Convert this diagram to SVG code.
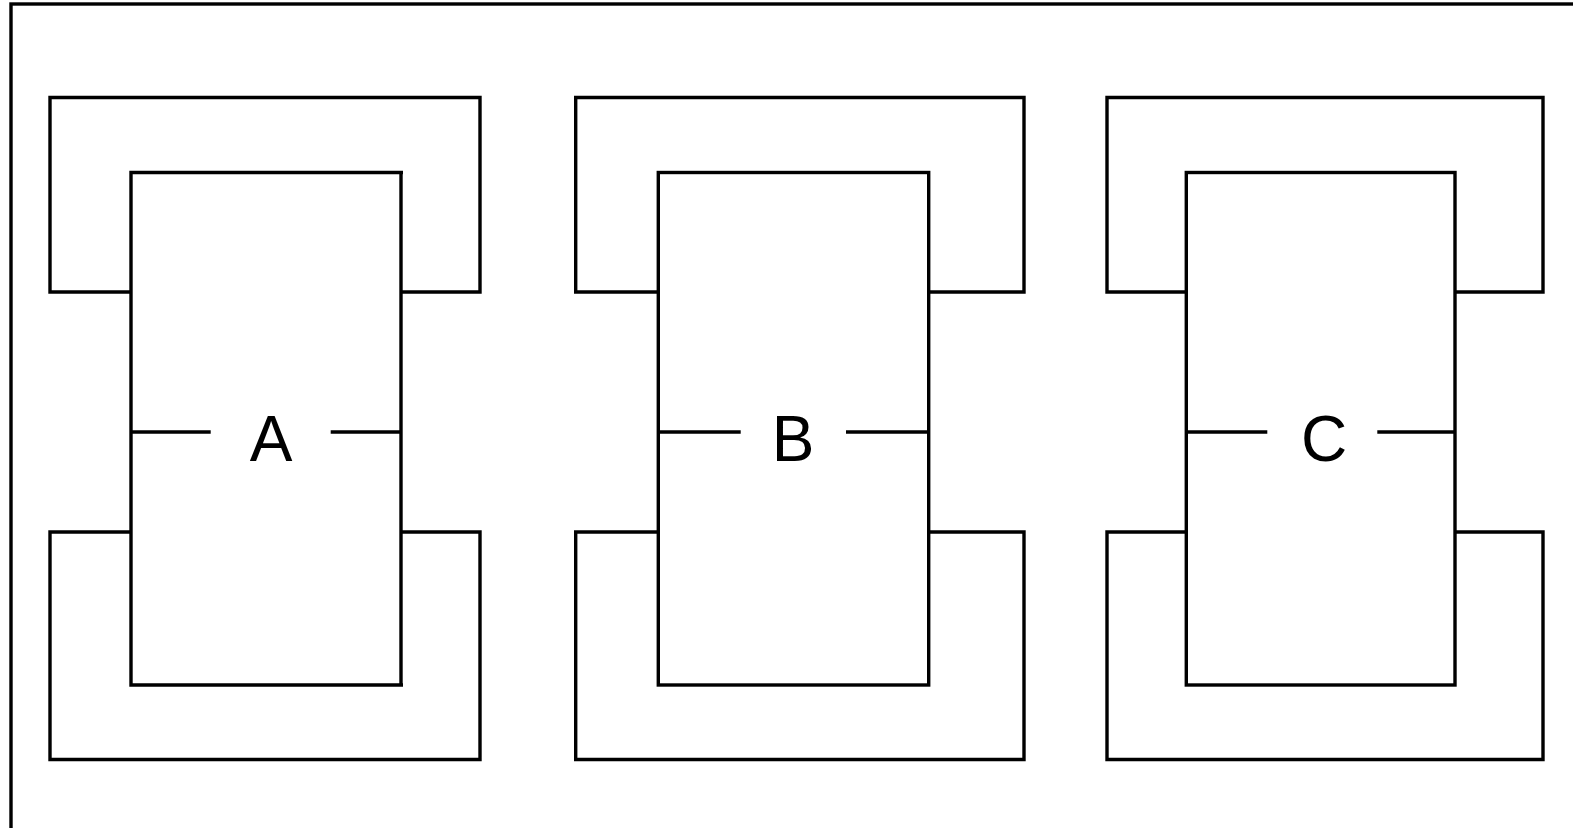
<svg xmlns="http://www.w3.org/2000/svg" width="1573" height="828" viewBox="0 0 1573 828">
<style>
.s{fill:none;stroke:#000;stroke-width:3.4;stroke-linejoin:miter}
.lbl{font-family:"Liberation Sans",Arial,sans-serif;font-size:64px;fill:#000;text-anchor:middle}
</style>
<rect width="1573" height="828" fill="#fff"/>
<rect class="s" x="11" y="4" width="1700" height="900"/>
<g id="nodeA">
<path class="s" d="M131 292H50V97.5H480V292H401"/>
<path class="s" d="M131 532H50V759.5H480V532H401"/>
<path class="s" d="M403 172.5H131V685H403M401 172.5V685"/>
<text class="lbl" x="271" y="461">A</text>
</g>
<g id="nodeB">
<path class="s" d="M658 292H575.7V97.5H1024V292H928.7"/>
<path class="s" d="M658 532H575.7V759.5H1024V532H928.7"/>
<rect class="s" x="658.3" y="172.5" width="270.4" height="512.5"/>
<text class="lbl" x="793" y="461">B</text>
</g>
<g id="nodeC">
<path class="s" d="M1186 292H1107V97.5H1543V292H1455"/>
<path class="s" d="M1186 532H1107V759.5H1543V532H1455"/>
<rect class="s" x="1186.3" y="172.5" width="268.7" height="512.5"/>
<text class="lbl" x="1324" y="461">C</text>
</g>
<g id="connectors">
<path class="s" d="M131 432H210.7M330.7 432H401"/>
<path class="s" d="M658 432H740.7M846 432H928.7"/>
<path class="s" d="M1186 432H1267.3M1377.3 432H1455"/>
</g>
</svg>
